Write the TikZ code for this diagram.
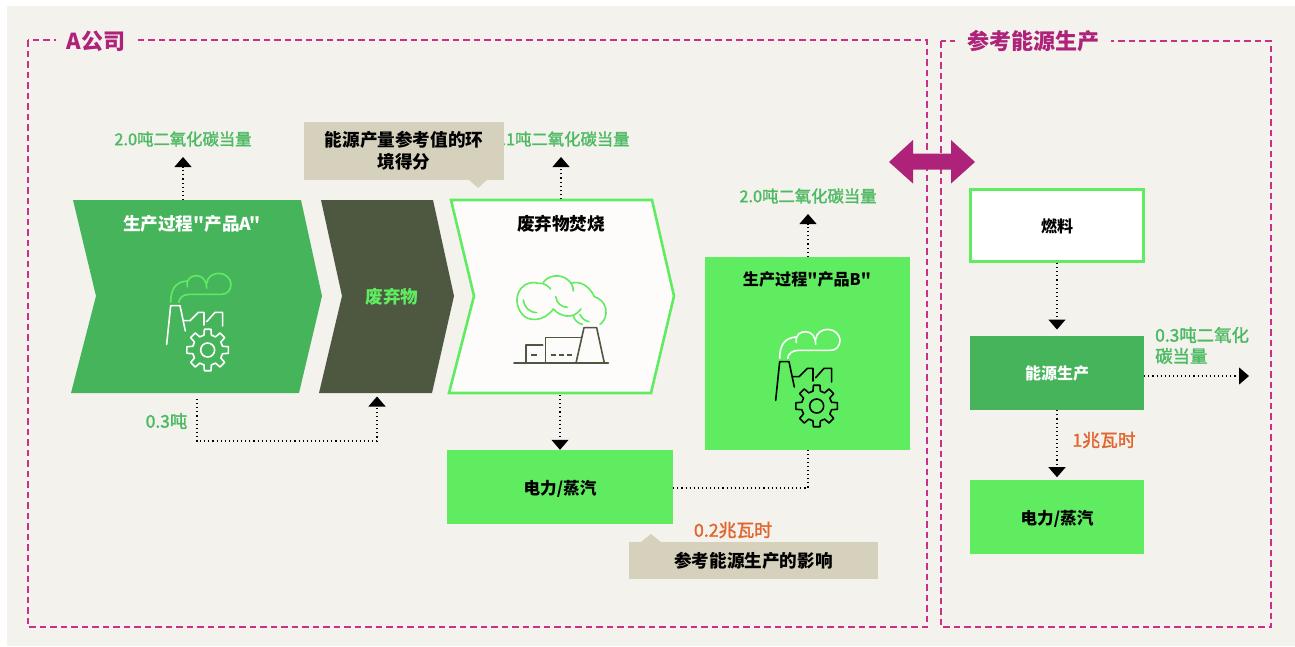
\documentclass[tikz,border=0pt]{standalone}
\usepackage{fontspec}
\newfontfamily\cjkf{Noto Sans CJK SC}
\newfontfamily\cjkm[FakeBold=1.8]{Noto Sans CJK SC}
\usetikzlibrary{arrows.meta}
\definecolor{bgc}{HTML}{F4F2ED}
\definecolor{dgreen}{HTML}{45B45A}
\definecolor{lgreen}{HTML}{60EC60}
\definecolor{olive}{HTML}{4E5740}
\definecolor{tan}{HTML}{D6D1BD}
\definecolor{mag}{HTML}{AE2279}
\definecolor{dashc}{HTML}{C8308A}
\definecolor{orange}{HTML}{E0662E}
\definecolor{lab}{HTML}{4DBA63}
\definecolor{paper}{HTML}{FDFCFA}
\newcommand{\fs}[1]{\cjkf\fontsize{#1}{22}\selectfont\bfseries}
\newcommand{\fm}[1]{\cjkm\fontsize{#1}{21}\selectfont}
\newcommand{\dn}[1]{\raisebox{-7pt}[0pt][0pt]{#1}}
\tikzset{
 txt/.style={inner sep=0pt,font=\fs{17.6},align=center},
 glab/.style={txt,text=lab,font=\fm{16.35}},
 slab/.style={txt,text=lab,font=\fm{17.4}},
 olab/.style={txt,text=orange,font=\fm{17.8}},
 frame/.style={draw=dashc,line width=1.1pt,dash pattern=on 6.5pt off 4pt},
 dots/.style={draw=black,line width=1.1pt,dash pattern=on 1.1pt off 3pt},
 flow/.style={dots,-{Triangle[width=17pt,length=10pt]}},
 boxn/.style={inner sep=0pt,font=\fs{16},align=center},
 iconline/.style={line width=1.6pt,line cap=round,line join=round},
 head/.style={inner sep=0pt,fill=bgc,minimum height=26pt,text=mag,font=\fs{22}},
}
\newcommand{\gearfactory}[4]{% x, y, cloud colour, factory colour
 \begin{scope}[shift={(#1,#2)},scale=1/3,iconline]
  \draw[#3] (62,127) .. controls (62,90) and (75,65) .. (112,63);
  \draw[#3] (112,80) .. controls (108,55) and (125,47) .. (140,47) .. controls (158,47) and (170,62) .. (170,85);
  \draw[#3] (170,70) .. controls (172,50) and (190,40) .. (207,40) .. controls (228,40) and (243,58) .. (243,72) .. controls (243,90) and (232,103) .. (215,103) -- (120,103) .. controls (100,103) and (88,112) .. (86,127);
  \draw[#4] (50,253) -- (62,137) -- (90,137) -- (106,213);
  \draw[#4] (102,182) -- (120,182) -- (145,157) -- (162,157) -- (162,195);
  \draw[#4] (170,185) -- (195,157) -- (218,157) -- (218,198);
  \begin{scope}[shift={(173,270)}]
   \draw[#4] (0,0) circle (21);
   \draw[#4] (76:46) \foreach \a in {0,45,...,315}{ -- (\a+76:46) -- (\a+81:63) -- (\a+99:63) -- (\a+104:46)} -- cycle;
  \end{scope}
 \end{scope}}
\begin{document}
\begin{tikzpicture}[x=1pt,y=-1pt]
\useasboundingbox (0,0) rectangle (1295,646);
\fill[white] (0,0) rectangle (1295,646);
\fill[bgc] (7,6) rectangle (1295,646);
% frames
\draw[frame] (28,40) rectangle (927,627);
\draw[frame] (941,41) rectangle (1271,627);
\node[head,minimum width=80pt] (lblA) at (96,41) {A公司};
\node[head,minimum width=156pt] (lblR) at (1033,41) {参考能源生产};
% double arrow
\fill[mag] (889,162) -- (913,140) -- (913,153.5) -- (951,153.5) -- (951,140) -- (975,162) -- (951,183.5) -- (951,169.5) -- (913,169.5) -- (913,183.5) -- cycle;
% chevrons
\fill[dgreen] (73,200) -- (301,200) -- (322,296) -- (299,393) -- (71,393) -- (96,296) -- cycle;
\fill[olive] (321,200) -- (433,200) -- (454,296) -- (432,393) -- (319,393) -- (342,296) -- cycle;
\filldraw[fill=paper,draw=lgreen,line width=2.6pt,miter limit=10] (451,200) -- (652,200) -- (674,296) -- (651,393) -- (449,393) -- (474,296) -- cycle;
% anchor coordinates
\coordinate (aTop) at (183,200); \coordinate (aUp) at (183,157);
\coordinate (aBot) at (197,399); \coordinate (aCorner) at (197,441);
\coordinate (wCorner) at (377,441); \coordinate (wBot) at (377,396.5);
\coordinate (iTop) at (561,199); \coordinate (iUp) at (561,157);
\coordinate (iBot) at (560,395);
\coordinate (bUp) at (808,214);
\coordinate (eCorner) at (808,488);
\coordinate (rOut) at (1249,376);
% rectangles
\node[fill=lgreen,minimum width=205pt,minimum height=193pt,inner sep=0pt] (prodB) at (807.5,353.5) {};
\node[fill=lgreen,minimum width=226pt,minimum height=74pt,boxn,font=\fs{16.6}] (steam) at (560,487) {\dn{电力/蒸汽}};
\node[fill=white,draw=lgreen,line width=2.6pt,minimum width=173.5pt,minimum height=72.5pt,boxn] (fuel) at (1057,225.5) {\dn{燃料}};
\node[fill=dgreen,text=white,minimum width=174pt,minimum height=74pt,boxn] (epro) at (1057,373) {\raisebox{-6pt}[0pt][0pt]{能源生产}};
\node[fill=lgreen,minimum width=174pt,minimum height=74pt,boxn,font=\fs{16.6}] (rsteam) at (1057,517) {\dn{电力/蒸汽}};
% connectors
\draw[flow] (aTop) -- (aUp);
\draw[flow] (aBot) -- (aCorner) -- (wCorner) -- (wBot);
\draw[flow] (iTop) -- (iUp);
\draw[flow] (iBot) -- (steam.north -| iBot);
\draw[flow] (prodB.north -| bUp) -- (bUp);
\draw[dots] (steam.east |- eCorner) -- (eCorner) -- (prodB.south -| eCorner);
\draw[flow] (fuel.south) -- ++(0,66.5);
\draw[flow] (epro.south) -- ++(0,67);
\draw[flow] (epro.east |- rOut) -- (rOut);
% labels
\node[glab] (l1) at (183,139) {2.0吨二氧化碳当量};
\node[glab] (l2) at (561,139) {2.1吨二氧化碳当量};
\node[glab] (l3) at (808,196) {2.0吨二氧化碳当量};
\node[slab] (l4) at (166.5,421) {0.3吨};
\node[slab,align=left,anchor=west] (l5) at (1155,345.5) {0.3吨二氧化\\碳当量};
\node[olab] (l6) at (733,530) {0.2兆瓦时};
\node[olab] (l7) at (1104,440) {1兆瓦时};
\node[txt,text=white] (t1) at (192,224) {生产过程"产品A"};
\node[txt,text=lgreen] (t2) at (392,297) {废弃物};
\node[txt] (t3) at (561,224) {废弃物焚烧};
\node[txt,font=\fs{16.1}] (t4) at (807,279.5) {生产过程"产品B"};
% callouts
\fill[tan] (468,179) -- (478,188) -- (488,179) -- cycle;
\node[fill=tan,minimum width=200pt,minimum height=58pt,txt,text width=180pt] (c1) at (404,150.5) {能源产量参考值的环\\境得分};
\fill[tan] (641,542) -- (651,534) -- (661,542) -- cycle;
\node[fill=tan,minimum width=249pt,minimum height=37pt,txt] (c2) at (753.5,560.5) {\dn{参考能源生产的影响}};
% icons
\gearfactory{150}{260}{lgreen}{white}
\gearfactory{759}{316}{white}{black}
\begin{scope}[shift={(505,265)},scale=1/3,iconline]
 \draw[lgreen] (137,72) .. controls (125,58) and (112,53) .. (100,55) .. controls (85,50) and (65,52) .. (50,68) .. controls (30,90) and (32,125) .. (52,148) .. controls (70,170) and (115,172) .. (145,132);
 \draw[lgreen] (115,52) .. controls (130,30) and (165,27) .. (185,42) .. controls (197,50) and (205,62) .. (205,78);
 \draw[lgreen] (198,55) .. controls (225,45) and (255,65) .. (268,95) .. controls (295,105) and (305,125) .. (303,145) .. controls (302,160) and (295,170) .. (285,178);
 \draw[lgreen] (145,132) .. controls (165,155) and (205,165) .. (228,132);
 \draw[lgreen] (55,105) .. controls (57,125) and (72,142) .. (95,143);
 \draw[lgreen] (152,95) .. controls (155,115) and (170,127) .. (187,127);
 \draw[lgreen] (205,152) .. controls (208,165) and (218,175) .. (232,178);
 \draw[lgreen] (225,148) .. controls (230,160) and (240,168) .. (252,170);
 \draw[olive] (27,294) -- (310,294);
 \draw[olive] (63,294) -- (63,240) -- (113,240);
 \draw[olive] (122,294) -- (122,217) -- (230,217);
 \draw[olive] (213,294) -- (237,188) -- (275,188) -- (298,294);
 \draw[olive,line cap=butt] (78,270) -- (97,270);
 \draw[olive,line cap=butt,dash pattern=on 5.5pt off 2.5pt] (137,270) -- (203,270);
\end{scope}
\end{tikzpicture}
\end{document}
